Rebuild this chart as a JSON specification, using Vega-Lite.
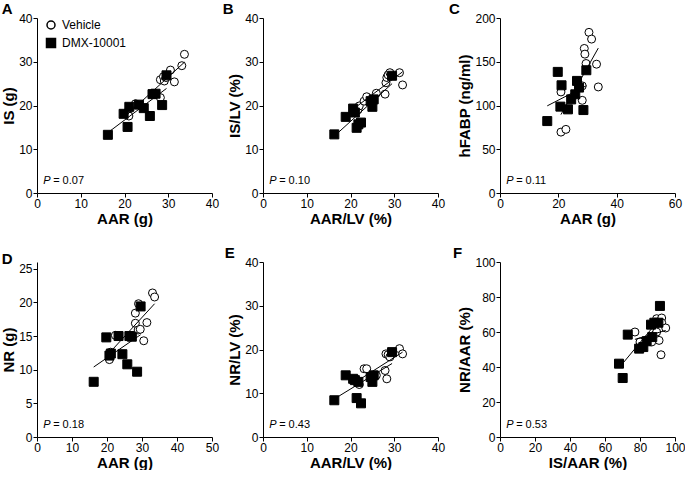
{
  "$schema": "https://vega.github.io/schema/vega-lite/v6.json",
  "padding": {"left": 1, "top": 2, "right": 0, "bottom": 0},
  "columns": 3,
  "spacing": {"row": 20, "column": 3},
  "datasets": {
    "points": [
      {"panel": "A", "group": "Vehicle", "x": 20.8, "y": 18.6},
      {"panel": "A", "group": "Vehicle", "x": 21.0, "y": 17.6},
      {"panel": "A", "group": "Vehicle", "x": 22.5, "y": 20.4},
      {"panel": "A", "group": "Vehicle", "x": 28.2, "y": 25.9},
      {"panel": "A", "group": "Vehicle", "x": 28.2, "y": 21.8},
      {"panel": "A", "group": "Vehicle", "x": 28.9, "y": 26.6},
      {"panel": "A", "group": "Vehicle", "x": 29.1, "y": 25.6},
      {"panel": "A", "group": "Vehicle", "x": 29.5, "y": 26.4},
      {"panel": "A", "group": "Vehicle", "x": 30.5, "y": 28.1},
      {"panel": "A", "group": "Vehicle", "x": 31.4, "y": 25.4},
      {"panel": "A", "group": "Vehicle", "x": 33.1, "y": 29.1},
      {"panel": "A", "group": "Vehicle", "x": 33.7, "y": 31.7},
      {"panel": "A", "group": "DMX-10001", "x": 16.2, "y": 13.3},
      {"panel": "A", "group": "DMX-10001", "x": 19.8, "y": 18.1},
      {"panel": "A", "group": "DMX-10001", "x": 20.7, "y": 15.1},
      {"panel": "A", "group": "DMX-10001", "x": 21.1, "y": 19.7},
      {"panel": "A", "group": "DMX-10001", "x": 23.3, "y": 20.2},
      {"panel": "A", "group": "DMX-10001", "x": 24.4, "y": 19.4},
      {"panel": "A", "group": "DMX-10001", "x": 25.8, "y": 17.6},
      {"panel": "A", "group": "DMX-10001", "x": 26.4, "y": 22.6},
      {"panel": "A", "group": "DMX-10001", "x": 27.1, "y": 22.7},
      {"panel": "A", "group": "DMX-10001", "x": 28.6, "y": 20.1},
      {"panel": "A", "group": "DMX-10001", "x": 29.6, "y": 26.9},

      {"panel": "B", "group": "Vehicle", "x": 21.7, "y": 19.0},
      {"panel": "B", "group": "Vehicle", "x": 22.0, "y": 19.9},
      {"panel": "B", "group": "Vehicle", "x": 23.1, "y": 21.0},
      {"panel": "B", "group": "Vehicle", "x": 23.7, "y": 22.0},
      {"panel": "B", "group": "Vehicle", "x": 25.9, "y": 22.8},
      {"panel": "B", "group": "Vehicle", "x": 27.9, "y": 22.6},
      {"panel": "B", "group": "Vehicle", "x": 28.1, "y": 25.2},
      {"panel": "B", "group": "Vehicle", "x": 28.3, "y": 26.4},
      {"panel": "B", "group": "Vehicle", "x": 28.6, "y": 27.0},
      {"panel": "B", "group": "Vehicle", "x": 29.0, "y": 27.5},
      {"panel": "B", "group": "Vehicle", "x": 31.2, "y": 27.5},
      {"panel": "B", "group": "Vehicle", "x": 31.9, "y": 24.7},
      {"panel": "B", "group": "DMX-10001", "x": 16.3, "y": 13.4},
      {"panel": "B", "group": "DMX-10001", "x": 18.9, "y": 17.4},
      {"panel": "B", "group": "DMX-10001", "x": 20.6, "y": 19.3},
      {"panel": "B", "group": "DMX-10001", "x": 21.0, "y": 18.4},
      {"panel": "B", "group": "DMX-10001", "x": 21.4, "y": 14.9},
      {"panel": "B", "group": "DMX-10001", "x": 21.8, "y": 15.7},
      {"panel": "B", "group": "DMX-10001", "x": 22.4, "y": 16.1},
      {"panel": "B", "group": "DMX-10001", "x": 24.6, "y": 21.0},
      {"panel": "B", "group": "DMX-10001", "x": 25.0, "y": 19.7},
      {"panel": "B", "group": "DMX-10001", "x": 25.3, "y": 21.4},
      {"panel": "B", "group": "DMX-10001", "x": 29.5, "y": 26.8},

      {"panel": "C", "group": "Vehicle", "x": 20.9, "y": 115.5},
      {"panel": "C", "group": "Vehicle", "x": 20.9, "y": 69.6},
      {"panel": "C", "group": "Vehicle", "x": 22.6, "y": 72.7},
      {"panel": "C", "group": "Vehicle", "x": 28.2, "y": 122.4},
      {"panel": "C", "group": "Vehicle", "x": 28.2, "y": 105.9},
      {"panel": "C", "group": "Vehicle", "x": 28.9, "y": 165.2},
      {"panel": "C", "group": "Vehicle", "x": 29.1, "y": 158.7},
      {"panel": "C", "group": "Vehicle", "x": 29.5, "y": 148.0},
      {"panel": "C", "group": "Vehicle", "x": 30.5, "y": 183.6},
      {"panel": "C", "group": "Vehicle", "x": 31.4, "y": 175.9},
      {"panel": "C", "group": "Vehicle", "x": 33.1, "y": 147.2},
      {"panel": "C", "group": "Vehicle", "x": 33.7, "y": 121.2},
      {"panel": "C", "group": "DMX-10001", "x": 16.2, "y": 82.2},
      {"panel": "C", "group": "DMX-10001", "x": 19.8, "y": 138.4},
      {"panel": "C", "group": "DMX-10001", "x": 20.7, "y": 98.7},
      {"panel": "C", "group": "DMX-10001", "x": 21.1, "y": 123.1},
      {"panel": "C", "group": "DMX-10001", "x": 23.3, "y": 95.6},
      {"panel": "C", "group": "DMX-10001", "x": 24.4, "y": 107.0},
      {"panel": "C", "group": "DMX-10001", "x": 25.8, "y": 112.8},
      {"panel": "C", "group": "DMX-10001", "x": 26.4, "y": 128.1},
      {"panel": "C", "group": "DMX-10001", "x": 27.1, "y": 120.5},
      {"panel": "C", "group": "DMX-10001", "x": 28.6, "y": 94.8},
      {"panel": "C", "group": "DMX-10001", "x": 29.6, "y": 140.3},

      {"panel": "D", "group": "Vehicle", "x": 20.7, "y": 11.5},
      {"panel": "D", "group": "Vehicle", "x": 21.0, "y": 12.6},
      {"panel": "D", "group": "Vehicle", "x": 22.4, "y": 15.1},
      {"panel": "D", "group": "Vehicle", "x": 28.1, "y": 18.4},
      {"panel": "D", "group": "Vehicle", "x": 28.1, "y": 16.9},
      {"panel": "D", "group": "Vehicle", "x": 28.9, "y": 15.9},
      {"panel": "D", "group": "Vehicle", "x": 29.0, "y": 19.8},
      {"panel": "D", "group": "Vehicle", "x": 29.5, "y": 16.0},
      {"panel": "D", "group": "Vehicle", "x": 30.5, "y": 14.3},
      {"panel": "D", "group": "Vehicle", "x": 31.4, "y": 17.0},
      {"panel": "D", "group": "Vehicle", "x": 33.0, "y": 21.4},
      {"panel": "D", "group": "Vehicle", "x": 33.6, "y": 20.8},
      {"panel": "D", "group": "DMX-10001", "x": 16.2, "y": 8.2},
      {"panel": "D", "group": "DMX-10001", "x": 19.8, "y": 14.8},
      {"panel": "D", "group": "DMX-10001", "x": 20.7, "y": 12.1},
      {"panel": "D", "group": "DMX-10001", "x": 21.1, "y": 12.4},
      {"panel": "D", "group": "DMX-10001", "x": 23.3, "y": 15.0},
      {"panel": "D", "group": "DMX-10001", "x": 24.4, "y": 12.3},
      {"panel": "D", "group": "DMX-10001", "x": 25.8, "y": 10.8},
      {"panel": "D", "group": "DMX-10001", "x": 26.4, "y": 15.0},
      {"panel": "D", "group": "DMX-10001", "x": 27.1, "y": 14.9},
      {"panel": "D", "group": "DMX-10001", "x": 28.6, "y": 9.7},
      {"panel": "D", "group": "DMX-10001", "x": 29.6, "y": 19.4},

      {"panel": "E", "group": "Vehicle", "x": 21.7, "y": 12.6},
      {"panel": "E", "group": "Vehicle", "x": 22.0, "y": 12.0},
      {"panel": "E", "group": "Vehicle", "x": 23.1, "y": 15.6},
      {"panel": "E", "group": "Vehicle", "x": 23.7, "y": 15.6},
      {"panel": "E", "group": "Vehicle", "x": 25.9, "y": 14.1},
      {"panel": "E", "group": "Vehicle", "x": 27.9, "y": 15.2},
      {"panel": "E", "group": "Vehicle", "x": 28.1, "y": 19.0},
      {"panel": "E", "group": "Vehicle", "x": 28.3, "y": 13.3},
      {"panel": "E", "group": "Vehicle", "x": 28.6, "y": 18.8},
      {"panel": "E", "group": "Vehicle", "x": 29.0, "y": 18.3},
      {"panel": "E", "group": "Vehicle", "x": 31.2, "y": 20.2},
      {"panel": "E", "group": "Vehicle", "x": 31.9, "y": 19.0},
      {"panel": "E", "group": "DMX-10001", "x": 16.3, "y": 8.4},
      {"panel": "E", "group": "DMX-10001", "x": 18.9, "y": 14.1},
      {"panel": "E", "group": "DMX-10001", "x": 20.6, "y": 13.3},
      {"panel": "E", "group": "DMX-10001", "x": 21.0, "y": 13.0},
      {"panel": "E", "group": "DMX-10001", "x": 21.4, "y": 8.9},
      {"panel": "E", "group": "DMX-10001", "x": 21.8, "y": 12.6},
      {"panel": "E", "group": "DMX-10001", "x": 22.4, "y": 7.7},
      {"panel": "E", "group": "DMX-10001", "x": 24.6, "y": 13.7},
      {"panel": "E", "group": "DMX-10001", "x": 25.0, "y": 12.6},
      {"panel": "E", "group": "DMX-10001", "x": 25.3, "y": 14.1},
      {"panel": "E", "group": "DMX-10001", "x": 29.5, "y": 19.4},

      {"panel": "F", "group": "Vehicle", "x": 77.1, "y": 60.0},
      {"panel": "F", "group": "Vehicle", "x": 80.0, "y": 54.3},
      {"panel": "F", "group": "Vehicle", "x": 84.5, "y": 55.5},
      {"panel": "F", "group": "Vehicle", "x": 86.7, "y": 54.3},
      {"panel": "F", "group": "Vehicle", "x": 88.6, "y": 58.5},
      {"panel": "F", "group": "Vehicle", "x": 89.5, "y": 67.6},
      {"panel": "F", "group": "Vehicle", "x": 89.5, "y": 60.0},
      {"panel": "F", "group": "Vehicle", "x": 90.9, "y": 55.2},
      {"panel": "F", "group": "Vehicle", "x": 92.0, "y": 47.0},
      {"panel": "F", "group": "Vehicle", "x": 92.4, "y": 68.0},
      {"panel": "F", "group": "Vehicle", "x": 92.4, "y": 65.3},
      {"panel": "F", "group": "Vehicle", "x": 94.7, "y": 62.3},
      {"panel": "F", "group": "DMX-10001", "x": 68.0, "y": 41.9},
      {"panel": "F", "group": "DMX-10001", "x": 70.1, "y": 33.7},
      {"panel": "F", "group": "DMX-10001", "x": 73.0, "y": 58.5},
      {"panel": "F", "group": "DMX-10001", "x": 79.5, "y": 50.5},
      {"panel": "F", "group": "DMX-10001", "x": 81.9, "y": 51.4},
      {"panel": "F", "group": "DMX-10001", "x": 83.8, "y": 54.7},
      {"panel": "F", "group": "DMX-10001", "x": 86.3, "y": 64.2},
      {"panel": "F", "group": "DMX-10001", "x": 87.0, "y": 57.1},
      {"panel": "F", "group": "DMX-10001", "x": 88.2, "y": 65.3},
      {"panel": "F", "group": "DMX-10001", "x": 90.5, "y": 65.3},
      {"panel": "F", "group": "DMX-10001", "x": 91.4, "y": 74.9}
    ],
    "fits": [
      {"panel": "A", "group": "Vehicle", "x": 20.8, "y": 18.1, "x2": 33.7, "y2": 29.9},
      {"panel": "A", "group": "DMX-10001", "x": 16.2, "y": 13.8, "x2": 29.6, "y2": 23.9},
      {"panel": "B", "group": "Vehicle", "x": 21.7, "y": 20.0, "x2": 31.9, "y2": 27.7},
      {"panel": "B", "group": "DMX-10001", "x": 16.3, "y": 13.0, "x2": 29.5, "y2": 25.0},
      {"panel": "C", "group": "Vehicle", "x": 20.9, "y": 89.6, "x2": 33.7, "y2": 165.6},
      {"panel": "C", "group": "DMX-10001", "x": 16.2, "y": 99.6, "x2": 29.6, "y2": 122.6},
      {"panel": "D", "group": "Vehicle", "x": 20.7, "y": 12.5, "x2": 33.6, "y2": 19.8},
      {"panel": "D", "group": "DMX-10001", "x": 16.2, "y": 10.4, "x2": 29.6, "y2": 15.2},
      {"panel": "E", "group": "Vehicle", "x": 21.7, "y": 12.9, "x2": 31.9, "y2": 19.4},
      {"panel": "E", "group": "DMX-10001", "x": 16.3, "y": 8.7, "x2": 29.5, "y2": 16.8},
      {"panel": "F", "group": "Vehicle", "x": 77.1, "y": 55.8, "x2": 94.7, "y2": 60.9},
      {"panel": "F", "group": "DMX-10001", "x": 68.0, "y": 39.5, "x2": 91.4, "y2": 67.6}
    ],
    "pvals": [
      {"panel": "A", "label": "= 0.07"},
      {"panel": "B", "label": "= 0.10"},
      {"panel": "C", "label": "= 0.11"},
      {"panel": "D", "label": "= 0.18"},
      {"panel": "E", "label": "= 0.43"},
      {"panel": "F", "label": "= 0.53"}
    ]
  },
  "resolve": {
    "scale": {"shape": "independent", "fill": "independent", "size": "independent"},
    "legend": {"shape": "independent", "fill": "independent", "size": "independent"}
  },
  "concat": [
    {
      "width": 175, "height": 175,
      "title": {"text": "A", "dx": 0},
      "layer": [
        {"data": {"name": "points"}, "transform": [{"filter": "datum.panel === 'A'"}],
         "mark": {"type": "point", "filled": true, "stroke": "black", "strokeWidth": 1, "opacity": 1},
         "encoding": {
           "x": {"field": "x", "type": "quantitative", "scale": {"domain": [0, 40]}, "axis": {"title": "AAR (g)", "values": [0, 10, 20, 30, 40], "tickCount": 12}},
           "y": {"field": "y", "type": "quantitative", "scale": {"domain": [0, 40]}, "axis": {"title": "IS (g)", "values": [0, 10, 20, 30, 40], "tickCount": 12}},
           "shape": {"field": "group", "type": "nominal", "scale": {"domain": ["Vehicle", "DMX-10001"], "range": ["circle", "square"]},
                     "legend": {"orient": "none", "legendX": 8, "legendY": 1, "title": null, "padding": 0, "labelFontSize": 12, "labelOffset": 5, "rowPadding": 3,
                                "encode": {"symbols": {"update": {"stroke": {"value": "black"}, "strokeWidth": {"value": 1}, "opacity": {"value": 1}}}}}},
           "fill": {"field": "group", "type": "nominal", "scale": {"domain": ["Vehicle", "DMX-10001"], "range": ["white", "black"]},
                    "legend": {"orient": "none", "legendX": 8, "legendY": 1, "title": null, "padding": 0, "labelFontSize": 12, "labelOffset": 5, "rowPadding": 3,
                               "encode": {"symbols": {"update": {"stroke": {"value": "black"}, "strokeWidth": {"value": 1}, "opacity": {"value": 1}}}}}},
           "size": {"field": "group", "type": "nominal", "scale": {"domain": ["Vehicle", "DMX-10001"], "range": [64, 81]},
                    "legend": {"orient": "none", "legendX": 8, "legendY": 1, "title": null, "padding": 0, "labelFontSize": 12, "labelOffset": 5, "rowPadding": 3,
                               "encode": {"symbols": {"update": {"stroke": {"value": "black"}, "strokeWidth": {"value": 1}, "opacity": {"value": 1}}}}}}
         }},
        {"data": {"name": "fits"}, "transform": [{"filter": "datum.panel === 'A'"}],
         "mark": {"type": "rule", "color": "black", "strokeWidth": 1},
         "encoding": {"x": {"field": "x", "type": "quantitative"}, "y": {"field": "y", "type": "quantitative"}, "x2": {"field": "x2"}, "y2": {"field": "y2"}}},
        {"data": {"name": "pvals"}, "transform": [{"filter": "datum.panel === 'A'"}],
         "mark": {"type": "text", "text": "P", "fontStyle": "italic", "align": "left", "baseline": "alphabetic", "fontSize": 11},
         "encoding": {"x": {"datum": 1.4, "type": "quantitative"}, "y": {"datum": 2.1, "type": "quantitative"}}},
        {"data": {"name": "pvals"}, "transform": [{"filter": "datum.panel === 'A'"}],
         "mark": {"type": "text", "align": "left", "baseline": "alphabetic", "fontSize": 11, "dx": 10},
         "encoding": {"x": {"datum": 1.4, "type": "quantitative"}, "y": {"datum": 2.1, "type": "quantitative"}, "text": {"field": "label"}}}
      ]
    },
    {
      "width": 175, "height": 175,
      "title": {"text": "B", "dx": -5},
      "layer": [
        {"data": {"name": "points"}, "transform": [{"filter": "datum.panel === 'B'"}],
         "mark": {"type": "point", "filled": true, "stroke": "black", "strokeWidth": 1, "opacity": 1},
         "encoding": {
           "x": {"field": "x", "type": "quantitative", "scale": {"domain": [0, 40]}, "axis": {"title": "AAR/LV (%)", "values": [0, 10, 20, 30, 40], "tickCount": 12}},
           "y": {"field": "y", "type": "quantitative", "scale": {"domain": [0, 40]}, "axis": {"title": "IS/LV (%)", "values": [0, 10, 20, 30, 40], "tickCount": 12}},
           "shape": {"field": "group", "type": "nominal", "scale": {"domain": ["Vehicle", "DMX-10001"], "range": ["circle", "square"]}, "legend": null},
           "fill": {"field": "group", "type": "nominal", "scale": {"domain": ["Vehicle", "DMX-10001"], "range": ["white", "black"]}, "legend": null},
           "size": {"field": "group", "type": "nominal", "scale": {"domain": ["Vehicle", "DMX-10001"], "range": [64, 81]}, "legend": null}
         }},
        {"data": {"name": "fits"}, "transform": [{"filter": "datum.panel === 'B'"}],
         "mark": {"type": "rule", "color": "black", "strokeWidth": 1},
         "encoding": {"x": {"field": "x", "type": "quantitative"}, "y": {"field": "y", "type": "quantitative"}, "x2": {"field": "x2"}, "y2": {"field": "y2"}}},
        {"data": {"name": "pvals"}, "transform": [{"filter": "datum.panel === 'B'"}],
         "mark": {"type": "text", "text": "P", "fontStyle": "italic", "align": "left", "baseline": "alphabetic", "fontSize": 11},
         "encoding": {"x": {"datum": 1.4, "type": "quantitative"}, "y": {"datum": 2.1, "type": "quantitative"}}},
        {"data": {"name": "pvals"}, "transform": [{"filter": "datum.panel === 'B'"}],
         "mark": {"type": "text", "align": "left", "baseline": "alphabetic", "fontSize": 11, "dx": 10},
         "encoding": {"x": {"datum": 1.4, "type": "quantitative"}, "y": {"datum": 2.1, "type": "quantitative"}, "text": {"field": "label"}}}
      ]
    },
    {
      "width": 175, "height": 175,
      "title": {"text": "C", "dx": -9},
      "layer": [
        {"data": {"name": "points"}, "transform": [{"filter": "datum.panel === 'C'"}],
         "mark": {"type": "point", "filled": true, "stroke": "black", "strokeWidth": 1, "opacity": 1},
         "encoding": {
           "x": {"field": "x", "type": "quantitative", "scale": {"domain": [0, 60]}, "axis": {"title": "AAR (g)", "values": [0, 20, 40, 60], "tickCount": 12}},
           "y": {"field": "y", "type": "quantitative", "scale": {"domain": [0, 200]}, "axis": {"title": "hFABP (ng/ml)", "values": [0, 50, 100, 150, 200], "tickCount": 12}},
           "shape": {"field": "group", "type": "nominal", "scale": {"domain": ["Vehicle", "DMX-10001"], "range": ["circle", "square"]}, "legend": null},
           "fill": {"field": "group", "type": "nominal", "scale": {"domain": ["Vehicle", "DMX-10001"], "range": ["white", "black"]}, "legend": null},
           "size": {"field": "group", "type": "nominal", "scale": {"domain": ["Vehicle", "DMX-10001"], "range": [64, 81]}, "legend": null}
         }},
        {"data": {"name": "fits"}, "transform": [{"filter": "datum.panel === 'C'"}],
         "mark": {"type": "rule", "color": "black", "strokeWidth": 1},
         "encoding": {"x": {"field": "x", "type": "quantitative"}, "y": {"field": "y", "type": "quantitative"}, "x2": {"field": "x2"}, "y2": {"field": "y2"}}},
        {"data": {"name": "pvals"}, "transform": [{"filter": "datum.panel === 'C'"}],
         "mark": {"type": "text", "text": "P", "fontStyle": "italic", "align": "left", "baseline": "alphabetic", "fontSize": 11},
         "encoding": {"x": {"datum": 2.1, "type": "quantitative"}, "y": {"datum": 10.4, "type": "quantitative"}}},
        {"data": {"name": "pvals"}, "transform": [{"filter": "datum.panel === 'C'"}],
         "mark": {"type": "text", "align": "left", "baseline": "alphabetic", "fontSize": 11, "dx": 10},
         "encoding": {"x": {"datum": 2.1, "type": "quantitative"}, "y": {"datum": 10.4, "type": "quantitative"}, "text": {"field": "label"}}}
      ]
    },
    {
      "width": 175, "height": 175,
      "title": {"text": "D", "dx": 0},
      "layer": [
        {"data": {"name": "points"}, "transform": [{"filter": "datum.panel === 'D'"}],
         "mark": {"type": "point", "filled": true, "stroke": "black", "strokeWidth": 1, "opacity": 1},
         "encoding": {
           "x": {"field": "x", "type": "quantitative", "scale": {"domain": [0, 50]}, "axis": {"title": "AAR (g)", "values": [0, 10, 20, 30, 40, 50], "tickCount": 12}},
           "y": {"field": "y", "type": "quantitative", "scale": {"domain": [0, 25]}, "axis": {"title": "NR (g)", "values": [0, 5, 10, 15, 20, 25], "tickCount": 12}},
           "shape": {"field": "group", "type": "nominal", "scale": {"domain": ["Vehicle", "DMX-10001"], "range": ["circle", "square"]}, "legend": null},
           "fill": {"field": "group", "type": "nominal", "scale": {"domain": ["Vehicle", "DMX-10001"], "range": ["white", "black"]}, "legend": null},
           "size": {"field": "group", "type": "nominal", "scale": {"domain": ["Vehicle", "DMX-10001"], "range": [64, 81]}, "legend": null}
         }},
        {"data": {"name": "fits"}, "transform": [{"filter": "datum.panel === 'D'"}],
         "mark": {"type": "rule", "color": "black", "strokeWidth": 1},
         "encoding": {"x": {"field": "x", "type": "quantitative"}, "y": {"field": "y", "type": "quantitative"}, "x2": {"field": "x2"}, "y2": {"field": "y2"}}},
        {"data": {"name": "pvals"}, "transform": [{"filter": "datum.panel === 'D'"}],
         "mark": {"type": "text", "text": "P", "fontStyle": "italic", "align": "left", "baseline": "alphabetic", "fontSize": 11},
         "encoding": {"x": {"datum": 1.75, "type": "quantitative"}, "y": {"datum": 1.3, "type": "quantitative"}}},
        {"data": {"name": "pvals"}, "transform": [{"filter": "datum.panel === 'D'"}],
         "mark": {"type": "text", "align": "left", "baseline": "alphabetic", "fontSize": 11, "dx": 10},
         "encoding": {"x": {"datum": 1.75, "type": "quantitative"}, "y": {"datum": 1.3, "type": "quantitative"}, "text": {"field": "label"}}}
      ]
    },
    {
      "width": 175, "height": 175,
      "title": {"text": "E", "dx": -3},
      "layer": [
        {"data": {"name": "points"}, "transform": [{"filter": "datum.panel === 'E'"}],
         "mark": {"type": "point", "filled": true, "stroke": "black", "strokeWidth": 1, "opacity": 1},
         "encoding": {
           "x": {"field": "x", "type": "quantitative", "scale": {"domain": [0, 40]}, "axis": {"title": "AAR/LV (%)", "values": [0, 10, 20, 30, 40], "tickCount": 12}},
           "y": {"field": "y", "type": "quantitative", "scale": {"domain": [0, 40]}, "axis": {"title": "NR/LV (%)", "values": [0, 10, 20, 30, 40], "tickCount": 12}},
           "shape": {"field": "group", "type": "nominal", "scale": {"domain": ["Vehicle", "DMX-10001"], "range": ["circle", "square"]}, "legend": null},
           "fill": {"field": "group", "type": "nominal", "scale": {"domain": ["Vehicle", "DMX-10001"], "range": ["white", "black"]}, "legend": null},
           "size": {"field": "group", "type": "nominal", "scale": {"domain": ["Vehicle", "DMX-10001"], "range": [64, 81]}, "legend": null}
         }},
        {"data": {"name": "fits"}, "transform": [{"filter": "datum.panel === 'E'"}],
         "mark": {"type": "rule", "color": "black", "strokeWidth": 1},
         "encoding": {"x": {"field": "x", "type": "quantitative"}, "y": {"field": "y", "type": "quantitative"}, "x2": {"field": "x2"}, "y2": {"field": "y2"}}},
        {"data": {"name": "pvals"}, "transform": [{"filter": "datum.panel === 'E'"}],
         "mark": {"type": "text", "text": "P", "fontStyle": "italic", "align": "left", "baseline": "alphabetic", "fontSize": 11},
         "encoding": {"x": {"datum": 1.4, "type": "quantitative"}, "y": {"datum": 2.1, "type": "quantitative"}}},
        {"data": {"name": "pvals"}, "transform": [{"filter": "datum.panel === 'E'"}],
         "mark": {"type": "text", "align": "left", "baseline": "alphabetic", "fontSize": 11, "dx": 10},
         "encoding": {"x": {"datum": 1.4, "type": "quantitative"}, "y": {"datum": 2.1, "type": "quantitative"}, "text": {"field": "label"}}}
      ]
    },
    {
      "width": 175, "height": 175,
      "title": {"text": "F", "dx": -5},
      "layer": [
        {"data": {"name": "points"}, "transform": [{"filter": "datum.panel === 'F'"}],
         "mark": {"type": "point", "filled": true, "stroke": "black", "strokeWidth": 1, "opacity": 1},
         "encoding": {
           "x": {"field": "x", "type": "quantitative", "scale": {"domain": [0, 100]}, "axis": {"title": "IS/AAR (%)", "values": [0, 20, 40, 60, 80, 100], "tickCount": 12}},
           "y": {"field": "y", "type": "quantitative", "scale": {"domain": [0, 100]}, "axis": {"title": "NR/AAR (%)", "values": [0, 20, 40, 60, 80, 100], "tickCount": 12}},
           "shape": {"field": "group", "type": "nominal", "scale": {"domain": ["Vehicle", "DMX-10001"], "range": ["circle", "square"]}, "legend": null},
           "fill": {"field": "group", "type": "nominal", "scale": {"domain": ["Vehicle", "DMX-10001"], "range": ["white", "black"]}, "legend": null},
           "size": {"field": "group", "type": "nominal", "scale": {"domain": ["Vehicle", "DMX-10001"], "range": [64, 81]}, "legend": null}
         }},
        {"data": {"name": "fits"}, "transform": [{"filter": "datum.panel === 'F'"}],
         "mark": {"type": "rule", "color": "black", "strokeWidth": 1},
         "encoding": {"x": {"field": "x", "type": "quantitative"}, "y": {"field": "y", "type": "quantitative"}, "x2": {"field": "x2"}, "y2": {"field": "y2"}}},
        {"data": {"name": "pvals"}, "transform": [{"filter": "datum.panel === 'F'"}],
         "mark": {"type": "text", "text": "P", "fontStyle": "italic", "align": "left", "baseline": "alphabetic", "fontSize": 11},
         "encoding": {"x": {"datum": 3.5, "type": "quantitative"}, "y": {"datum": 5.2, "type": "quantitative"}}},
        {"data": {"name": "pvals"}, "transform": [{"filter": "datum.panel === 'F'"}],
         "mark": {"type": "text", "align": "left", "baseline": "alphabetic", "fontSize": 11, "dx": 10},
         "encoding": {"x": {"datum": 3.5, "type": "quantitative"}, "y": {"datum": 5.2, "type": "quantitative"}, "text": {"field": "label"}}}
      ]
    }
  ],
  "config": {
    "font": "Liberation Sans",
    "view": {"stroke": null},
    "background": "white",
    "text": {"color": "black", "font": "Liberation Sans"},
    "axis": {
      "grid": false, "domainColor": "black", "tickColor": "black", "labelColor": "black", "titleColor": "black",
      "labelFont": "Liberation Sans", "titleFont": "Liberation Sans", "labelFontSize": 12, "titleFontSize": 15,
      "titleFontWeight": "bold", "tickSize": 4, "labelPadding": 1, "titlePadding": 2, "labelFlush": false, "labelOverlap": false
    },
    "legend": {"labelFont": "Liberation Sans", "labelColor": "black"},
    "title": {"anchor": "start", "frame": "bounds", "font": "Liberation Sans", "fontSize": 15, "fontWeight": "bold", "color": "black", "offset": -5}
  }
}
